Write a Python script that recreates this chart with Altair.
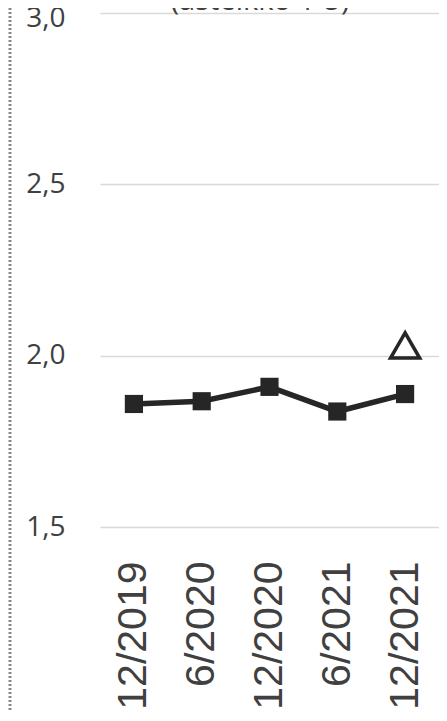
import altair as alt
import pandas as pd

periods = ["12/2019", "6/2020", "12/2020", "6/2021", "12/2021"]
values = [1.859, 1.867, 1.909, 1.837, 1.888]
target_period = ["12/2021"]
target_value = [2.03]
title_text = "(asteikko 1-5)"
y_ticks = [1.5, 2.0, 2.5, 3.0]

df = pd.DataFrame({"period": periods, "value": values})
df_t = pd.DataFrame({"period": target_period, "value": target_value})

dark = "#262626"

x = alt.X("period:N", sort=periods,
          scale=alt.Scale(type="point", padding=0.5),
          axis=alt.Axis(title=None, labelAngle=-90, labelFont="Liberation Sans",
                        labelFontSize=41, labelColor="#404040", labelPadding=34,
                        domain=False, ticks=False, grid=False,
                        labelBaseline="middle", labelAlign="right"))
y = alt.Y("value:Q", scale=alt.Scale(domain=[1.5, 3.0], nice=False, zero=False),
          axis=alt.Axis(title=None, values=y_ticks, domain=False, ticks=False,
                        grid=True, gridColor="#d9d9d9", gridWidth=1.5,
                        labelFont="Open Sans", labelFontSize=28, labelColor="#404040",
                        labelPadding=35,
                        labelOffset={"condition": {"test": "datum.value >= 3", "value": 5}, "value": 0},
                        labelExpr="replace(format(datum.value, '.1f'), '.', ',')"))

line = alt.Chart(df).mark_line(color=dark, strokeWidth=5.5).encode(x=x, y=y)
pts = alt.Chart(df).mark_point(shape="square", filled=True, color=dark, size=330, opacity=1).encode(x=x, y=y)
tri = alt.Chart(df_t).mark_point(shape="triangle-up", filled=False, color=dark,
                                  strokeWidth=3.5, size=850, opacity=1).encode(x=x, y=y)

title = alt.Chart(pd.DataFrame({"t": [title_text]})).mark_text(
    font="Open Sans", fontSize=29, color="#404040", baseline="alphabetic", align="center"
).encode(text="t:N", x=alt.value(160), y=alt.value(-3))

border = alt.Chart(pd.DataFrame({"a": [0]})).mark_rule(
    color="#888888", strokeDash=[2, 2], strokeWidth=3
).encode(x=alt.value(-90), y=alt.value(-5), y2=alt.value(700))

chart = alt.layer(border, line, pts, tri, title).properties(
    width=339, height=514,
    autosize=alt.AutoSizeParams(type="none"),
    padding={"left": 92, "top": 5, "right": 0, "bottom": 184},
).configure_view(stroke=None)

chart.save("out.html", embed_options={"renderer": "svg", "actions": False})
